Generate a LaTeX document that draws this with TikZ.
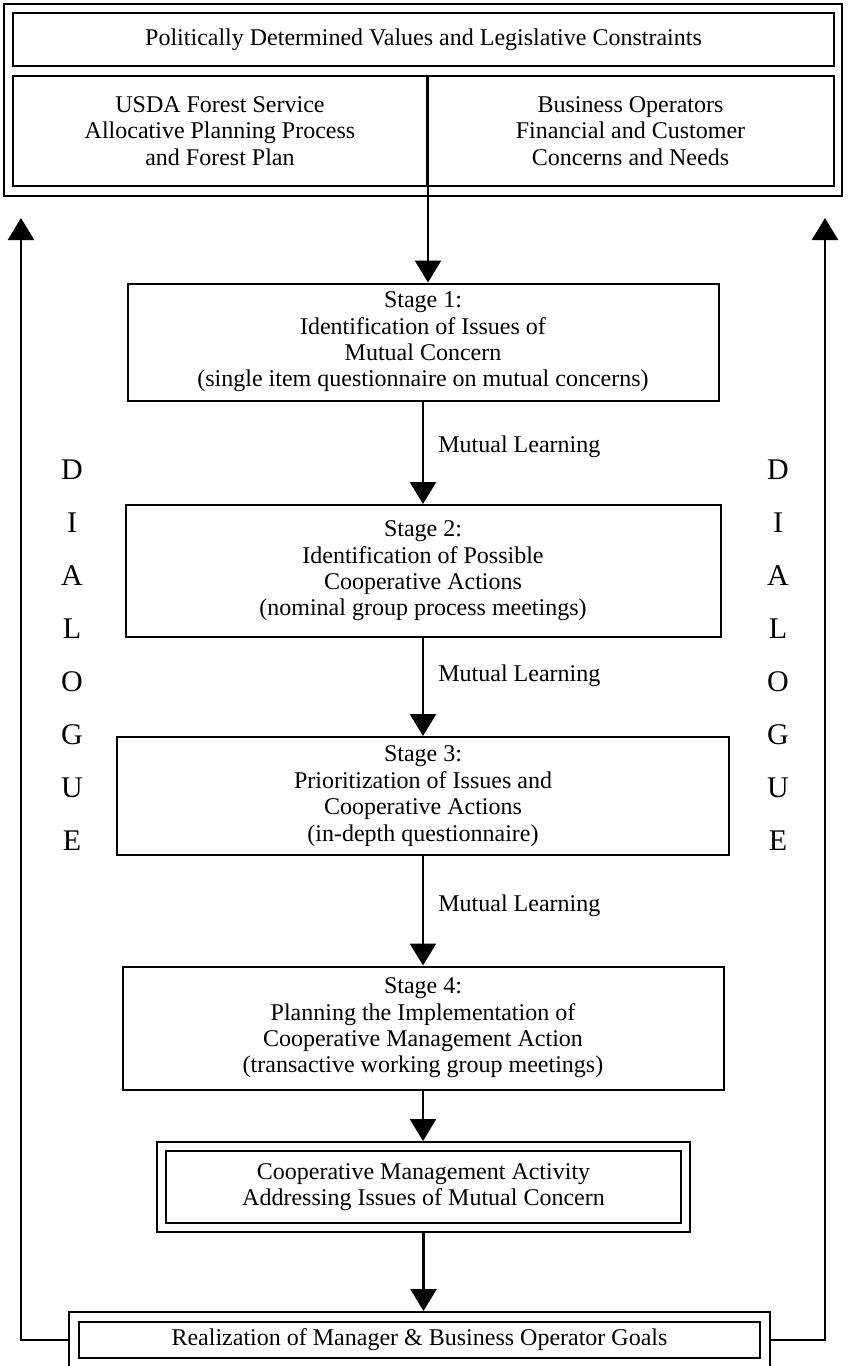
\documentclass[tikz,border=0pt]{standalone}
\usepackage{fontspec}
\setmainfont{Liberation Serif}
\usetikzlibrary{arrows.meta,positioning}

\begin{document}
\begin{tikzpicture}[x=0.5pt, y=-0.5pt,
  textbox/.style={draw, line width=1pt, align=center, inner sep=0pt, font=\fontsize{12}{13.2}\selectfont},
  plainbox/.style={draw, line width=1pt, inner sep=0pt},
  flow/.style={line width=1.3pt, -{Triangle[width=13pt, length=11pt]}},
  dialog/.style={font=\fontsize{15}{15}\selectfont, inner sep=0pt},
  learn/.style={font=\fontsize{12}{13.2}\selectfont, anchor=west, inner sep=0pt}]
  \useasboundingbox (0,0) rectangle (847,1366);

  %% Top frame: values and the two parties
  \node[plainbox, minimum width=419pt, minimum height=96pt] (frame) at (423,100) {};
  \node[textbox, minimum width=410.5pt, minimum height=26.5pt] (values) at (423.5,39.5) {Politically Determined Values and Legislative Constraints};
  \node[textbox, minimum width=207pt, minimum height=55pt] (usda) at (220,131) {USDA Forest Service\\Allocative Planning Process\\and Forest Plan};
  \node[textbox, minimum width=203.5pt, minimum height=55pt] (business) at (630.5,131) {Business Operators\\Financial and Customer\\Concerns and Needs};

  %% Stages
  \node[textbox, minimum width=295.5pt, minimum height=58.5pt] (stage1) at (423,342) {Stage 1:\\Identification of Issues of\\Mutual Concern\\(single item questionnaire on mutual concerns)};
  \node[textbox, minimum width=297.5pt, minimum height=66pt] (stage2) at (423,571) {Stage 2:\\Identification of Possible\\Cooperative Actions\\(nominal group process meetings)};
  \node[textbox, minimum width=306pt, minimum height=59pt] (stage3) at (423,796) {Stage 3:\\Prioritization of Issues and\\Cooperative Actions\\(in-depth questionnaire)};
  \node[textbox, minimum width=300.5pt, minimum height=61.5pt] (stage4) at (423,1028) {Stage 4:\\Planning the Implementation of\\Cooperative Management Action\\(transactive working group meetings)};

  %% Outcome boxes (double frames)
  \node[plainbox, minimum width=266.5pt, minimum height=45pt] (activity) at (423.5,1187) {};
  \node[textbox, minimum width=257.5pt, minimum height=36pt] (activityin) at (activity) {Cooperative Management Activity\\Addressing Issues of Mutual Concern};
  \node[plainbox, minimum width=350.5pt, minimum height=28pt] (goals) at (419.5,1340) {};
  \node[textbox, minimum width=340.5pt, minimum height=18pt] (goalsin) at (goals) {Realization of Manager \& Business Operator Goals};

  %% Main flow
  \draw[flow] (usda.north east) -- (usda.north east |- stage1.north);
  \draw[flow] (stage1) -- (stage2);
  \draw[flow] (stage2) -- (stage3);
  \draw[flow] (stage3) -- (stage4);
  \draw[flow] (stage4) -- (stage4 |- activity.north);
  \draw[flow] (activity) -- (activity |- goals.north);

  \node[learn] (learn1) at (438,447) {Mutual Learning};
  \node[learn] (learn2) at (438,676) {Mutual Learning};
  \node[learn] (learn3) at (438,906) {Mutual Learning};

  %% Dialogue loops back to the top
  \coordinate (lefttip) at (21,218);
  \coordinate (righttip) at (825,218);
  \draw[flow] (goals.west) -| (lefttip);
  \draw[flow] (goals.east) -| (righttip);

  \foreach \ch [count=\i from 0] in {D,I,A,L,O,G,U,E} {
    \node[dialog] (dl\i) at (72,470+52.9*\i) {\ch};
    \node[dialog] (dr\i) at (778,470+52.9*\i) {\ch};
  }
\end{tikzpicture}
\end{document}
